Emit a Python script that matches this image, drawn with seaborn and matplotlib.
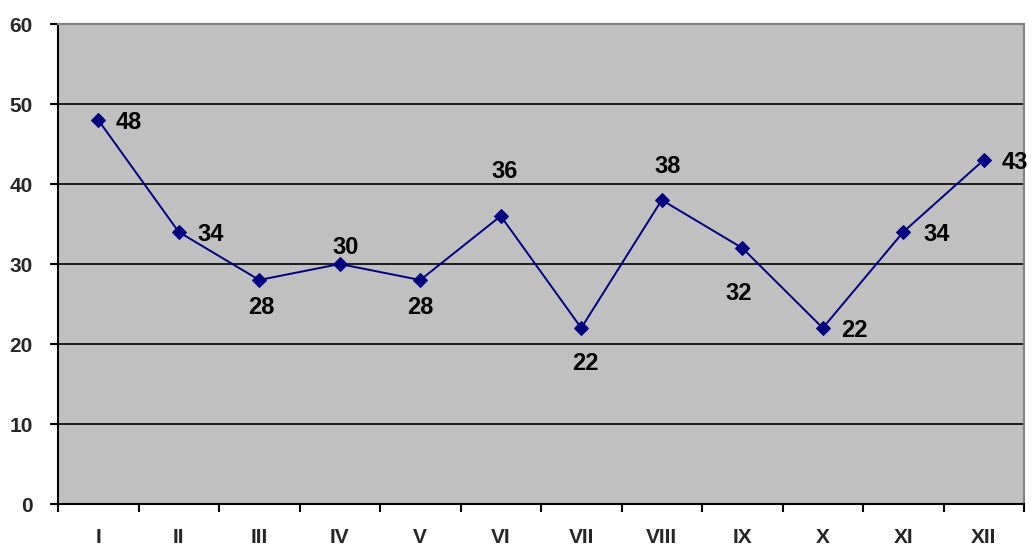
import numpy as np
import pandas as pd
import seaborn as sns
import matplotlib.pyplot as plt

months = ['I', 'II', 'III', 'IV', 'V', 'VI', 'VII', 'VIII', 'IX', 'X', 'XI', 'XII']
values = [48, 34, 28, 30, 28, 36, 22, 38, 32, 22, 34, 43]

# label placement (pixels relative to the point)
label_offsets = [(17, 0), (19, 0), (2, -25), (6, 19), (0, -25), (4, 47),
                 (4, -33), (6, 36), (-4, -43), (18, 0), (20, 0), (18, 0)]
label_align = ['left', 'left', 'center', 'center', 'center', 'center',
               'center', 'center', 'center', 'left', 'left', 'left']

df = pd.DataFrame({'month': months, 'value': values})

sns.set_style('white')
plt.rcParams['font.family'] = ['Liberation Sans', 'DejaVu Sans']

fig = plt.figure(figsize=(10.32, 5.5), dpi=100)
ax = fig.add_axes([58 / 1032, 46 / 550, 966 / 1032, 480 / 550])
ax.set_facecolor('#C0C0C0')

sns.lineplot(df, x='month', y='value', ax=ax, color='#000080', linewidth=1.4,
             marker='D', markersize=7, markeredgecolor='#000080', sort=False)

for i, (v, off, ha) in enumerate(zip(values, label_offsets, label_align)):
    ax.annotate(str(v), (i, v), xytext=off, textcoords='offset pixels',
                ha=ha, va='center_baseline', fontsize=17, fontweight='bold', color='black')

ax.set_xlim(-0.5, 11.5)
ax.set_ylim(0, 60)
ax.set_yticks(range(0, 61, 10))
ax.set_xticks(range(12))
ax.set_xticklabels(months)
ax.set_xticks(np.arange(-0.5, 12, 1), minor=True)
ax.tick_params(axis='x', which='major', length=0, pad=17, labelsize=15)
ax.tick_params(axis='x', which='minor', length=6, width=1.5, color='black', direction='out', bottom=True)
ax.tick_params(axis='y', length=6, width=1.5, color='black', direction='out', left=True,
               labelsize=15, pad=12)
for lab in ax.get_xticklabels() + ax.get_yticklabels():
    lab.set_fontweight('bold')

ax.yaxis.grid(True, color='black', linewidth=1.2)
ax.set_axisbelow(True)
ax.set_xlabel('')
ax.set_ylabel('')

for side in ['left', 'bottom']:
    ax.spines[side].set_color('black')
    ax.spines[side].set_linewidth(1.5)
for side in ['top', 'right']:
    ax.spines[side].set_color('#808080')
    ax.spines[side].set_linewidth(1.5)

plt.savefig('out.png', dpi=100)
